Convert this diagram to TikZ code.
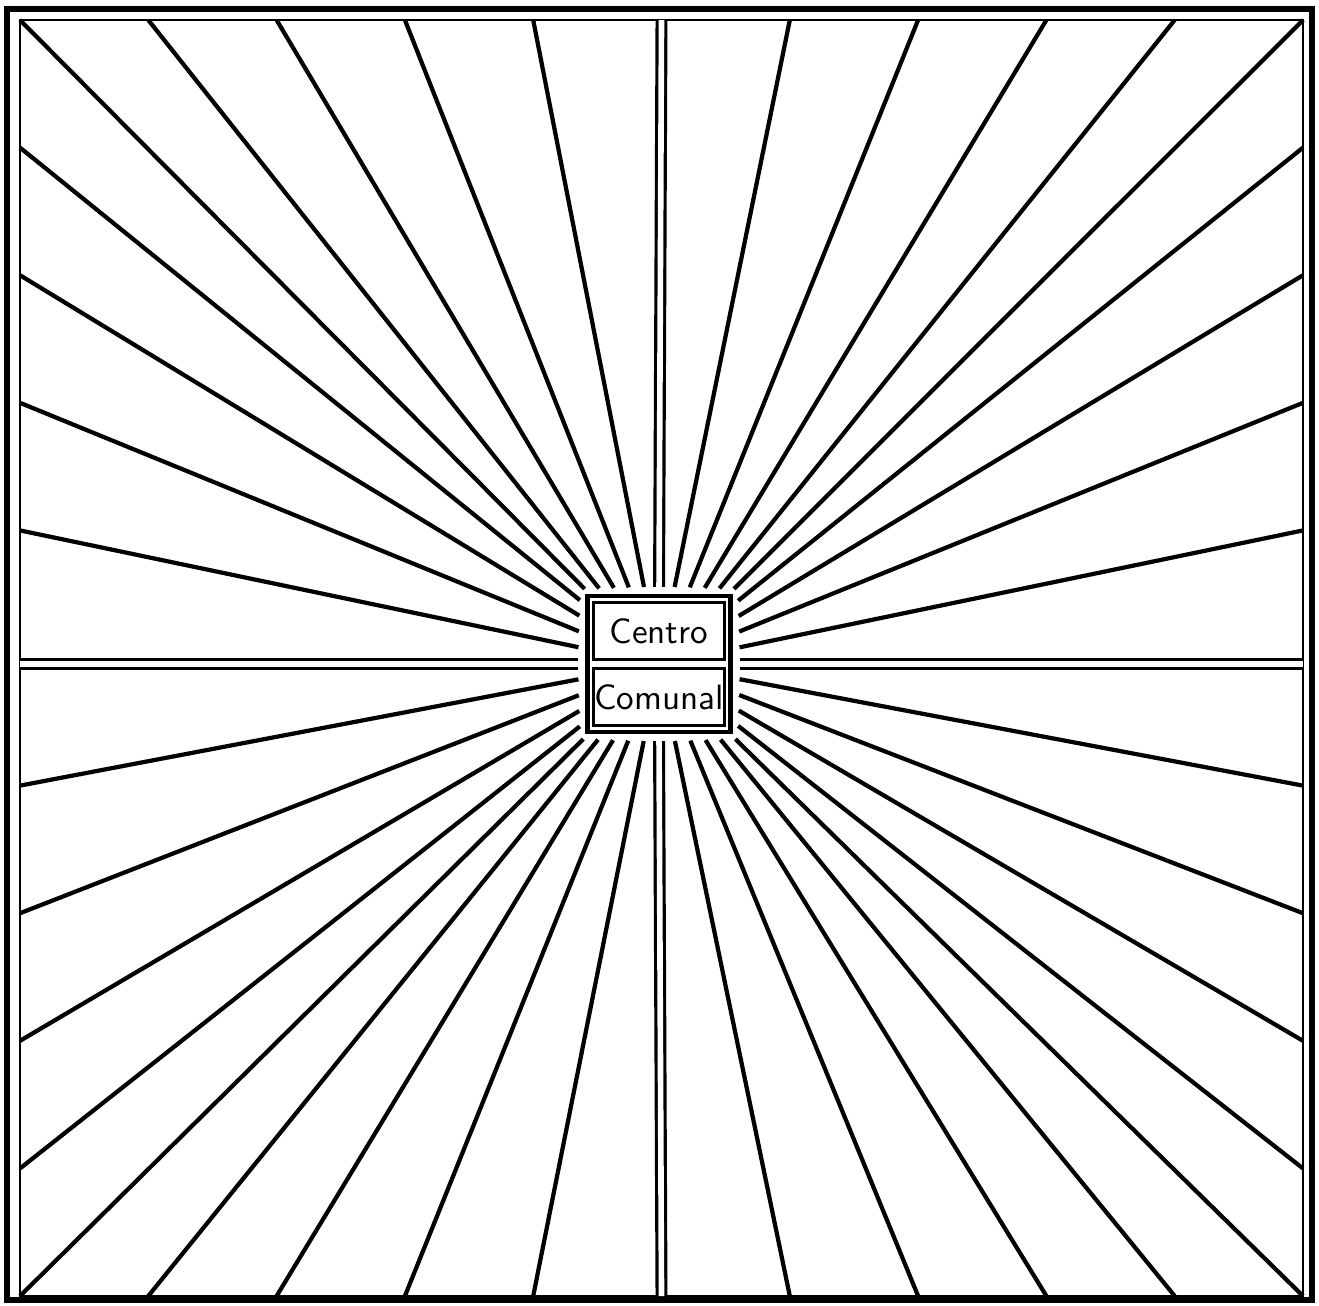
\documentclass[tikz,border=0pt]{standalone}
\usepackage{tikz}
\usetikzlibrary{positioning}
\tikzset{
  ray/.style={line width=1.2pt, shorten <=2pt},
  axisray/.style={line width=0.9pt, double, double distance=1.6pt, shorten <=2pt},
  hubbox/.style={rectangle, draw, line width=1.2pt, fill=white, minimum width=1.43cm, minimum height=1.36cm, inner sep=0pt},
  labelbox/.style={rectangle, draw, line width=1pt, minimum width=1.31cm, minimum height=0.57cm, inner sep=0pt, font=\sffamily\fontsize{10}{12}\selectfont},
}

\begin{document}
\begin{tikzpicture}[x=0.01cm, y=-0.01cm]
  \useasboundingbox (0,0) rectangle (1319,1305);

  % Frame
  \draw[line width=1.8pt] (7,9) rectangle (1312,1300);
  \draw[line width=0.6pt] (20,20) rectangle (1303,1296);

  % Border points
  \foreach \i in {0,...,10} {
    \coordinate (t\i) at ({20+128.3*\i},20);
    \coordinate (b\i) at ({20+128.3*\i},1296);
    \coordinate (l\i) at (20,{20+127.6*\i});
    \coordinate (r\i) at (1303,{20+127.6*\i});
  }

  % Community centre
  \node[hubbox] (hub) at (659,664) {};
  \node[labelbox] (centro) at (659,631) {Centro};
  \node[labelbox] (comunal) at (659,697) {Comunal};

  % Rays
  \foreach \i in {0,1,2,3,4,6,7,8,9,10} {
    \draw[ray] (hub) -- (t\i);
    \draw[ray] (hub) -- (b\i);
  }
  \foreach \i in {1,2,3,4,6,7,8,9} {
    \draw[ray] (hub) -- (l\i);
    \draw[ray] (hub) -- (r\i);
  }
  \draw[axisray] (hub.north) -- (t5);
  \draw[axisray] (hub.south) -- (b5);
  \draw[axisray] (hub.west) -- (hub.west -| l5);
  \draw[axisray] (hub.east) -- (hub.east -| r5);
\end{tikzpicture}
\end{document}
